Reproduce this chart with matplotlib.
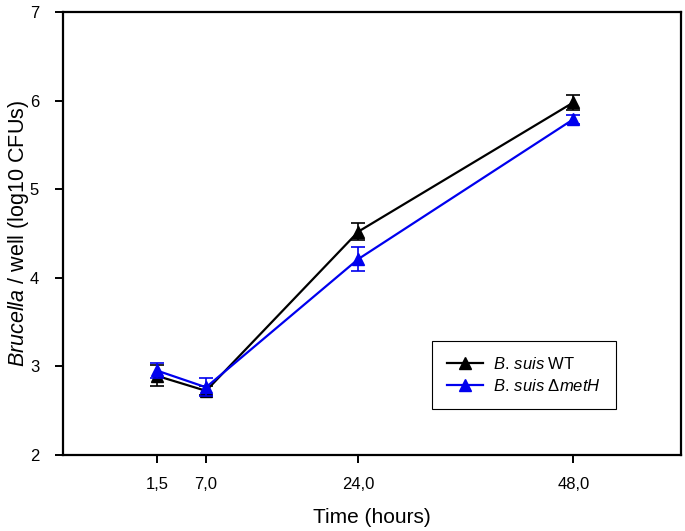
import matplotlib
matplotlib.use("Agg")
import matplotlib.pyplot as plt

plt.rcParams["font.family"] = ["Liberation Sans", "DejaVu Sans"]
plt.rcParams["mathtext.fontset"] = "custom"
plt.rcParams["mathtext.rm"] = "Liberation Sans"
plt.rcParams["mathtext.it"] = "Liberation Sans:italic"

time_hours = [1.5, 7.0, 24.0, 48.0]
tick_labels = ["1,5", "7,0", "24,0", "48,0"]

wt_mean = [2.89, 2.72, 4.52, 5.98]
wt_err = [0.12, 0.05, 0.10, 0.08]

meth_mean = [2.95, 2.76, 4.21, 5.79]
meth_err = [0.09, 0.10, 0.14, 0.05]

fig = plt.figure(figsize=(6.85, 5.31), dpi=100)
ax = fig.add_axes([0.0915, 0.144, 0.9025, 0.833])

wt = ax.errorbar(time_hours, wt_mean, yerr=wt_err, color="black", marker="^",
                 markersize=9, linewidth=1.6, capsize=5, elinewidth=1.2,
                 capthick=1.2, zorder=3)
meth = ax.errorbar(time_hours, meth_mean, yerr=meth_err, color="#0000ee", marker="^",
                   markersize=9, linewidth=1.6, capsize=5, elinewidth=1.2,
                   capthick=1.2, zorder=4)

ax.set_xlim(-9, 60)
ax.set_ylim(2, 7)
ax.set_xticks(time_hours)
ax.set_xticklabels(tick_labels)
ax.set_yticks([2, 3, 4, 5, 6, 7])

for side in ["left", "right", "top", "bottom"]:
    ax.spines[side].set_linewidth(1.6)
ax.tick_params(axis="both", direction="out", length=6, width=1.4,
               labelsize=12, top=False, right=False)
ax.tick_params(axis="x", pad=10)
ax.tick_params(axis="y", pad=11)

ax.set_xlabel("Time (hours)", fontsize=15, labelpad=12)
ax.set_ylabel(r"$\it{Brucella}$ / well (log10 CFUs)", fontsize=15.5)
ax.yaxis.set_label_coords(-0.052, 0.5)

leg = ax.legend(handles=[wt[0], meth[0]],
                labels=[r"$\it{B.\,suis}$ WT", r"$\it{B.\,suis}$ $\Delta\it{metH}$"],
                loc="upper left", bbox_to_anchor=(0.597, 0.2565), borderaxespad=0,
                fontsize=12, fancybox=False, edgecolor="black", framealpha=1,
                borderpad=0.9, handlelength=2.2, handletextpad=0.6, labelspacing=0.35)
leg.get_frame().set_linewidth(0.8)

fig.savefig("out.png", dpi=100)
